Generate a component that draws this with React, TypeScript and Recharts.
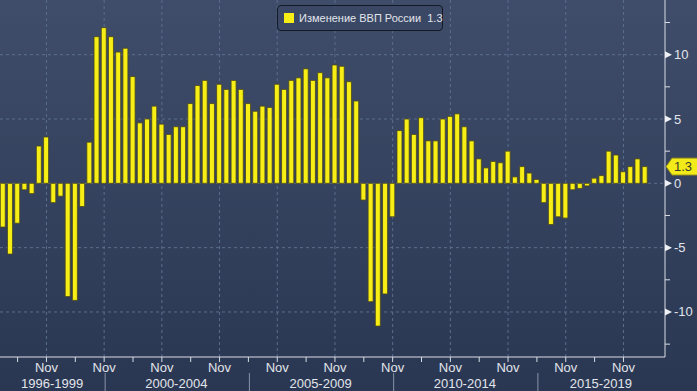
import React from 'react';
import { BarChart, Bar, XAxis, YAxis, CartesianGrid } from 'recharts';

// ---------- data ----------
const seriesName = 'Изменение ВВП России';
const firstYear = 1996;
const firstQuarter = 2;

// Russian GDP change, % y/y, quarterly from 1996 Q2 to 2018 Q3
const gdpChange: number[] = [
  -3.4, -5.5, -3.1, -0.5, -0.8, 2.9, 3.6, -1.5, -1.0, -8.8, -9.1, -1.8, 3.2, 11.4, 12.1,
  11.4, 10.2, 10.5, 8.3, 4.7, 5.0, 6.0, 4.6, 3.8, 4.4, 4.4, 6.2, 7.6, 8.0, 6.2,
  7.7, 7.3, 8.0, 7.3, 6.2, 5.6, 6.0, 5.9, 7.7, 7.3, 8.0, 8.2, 8.9, 8.0, 8.6,
  8.2, 9.2, 9.1, 7.9, 6.4, -1.3, -9.2, -11.1, -8.6, -2.6, 4.1, 5.0, 3.8, 5.1, 3.3,
  3.3, 5.0, 5.2, 5.4, 4.4, 3.3, 1.9, 1.2, 1.7, 1.6, 2.5, 0.5, 1.3, 0.8, 0.3,
  -1.5, -3.2, -2.6, -2.7, -0.5, -0.4, -0.2, 0.4, 0.6, 2.5, 2.2, 0.9, 1.3, 1.9, 1.3,
];

const quarterLabels: string[] = gdpChange.map((_, i) => {
  const q = firstQuarter - 1 + i;
  return `${firstYear + Math.floor(q / 4)} Q${(q % 4) + 1}`;
});

const tickYears: number[] = [
  1997, 1998, 1999, 2000, 2001, 2002, 2003, 2004, 2005, 2006, 2007,
  2008, 2009, 2010, 2011, 2012, 2013, 2014, 2015, 2016, 2017, 2018,
];
const labeledTickYears: number[] = [1998, 2000, 2002, 2004, 2006, 2008, 2010, 2012, 2014, 2016, 2018];
const labeledTickText = 'Nov';

const yearGroups = [
  { label: '1996-1999', from: 1996, to: 2000 },
  { label: '2000-2004', from: 2000, to: 2005 },
  { label: '2005-2009', from: 2005, to: 2010 },
  { label: '2010-2014', from: 2010, to: 2015 },
  { label: '2015-2019', from: 2015, to: 2020 },
];

const yMinorTicks: number[] = [-12.5, -7.5, -2.5, 2.5, 7.5, 12.5];
const yLabelTicks: number[] = [-10, -5, 0, 5, 10];

// ---------- derived ----------
const X_DOMAIN: [number, number] = [1996.36, 2019.41];
const Y_DOMAIN: [number, number] = [-13.5, 14.25];
const yearPos = (y: number) => y - 0.03;
const quarterToT = (label: string) => {
  const [y, q] = label.split(' Q');
  return Number(y) + Number(q) * 0.25 - 0.04;
};

const data = quarterLabels.map((q, i) => ({ quarter: q, t: quarterToT(q), v: gdpChange[i] }));
const lastValue = gdpChange[gdpChange.length - 1];

const groupCenters = yearGroups.map((g) => {
  const a = Math.max(yearPos(g.from), X_DOMAIN[0]);
  const b = Math.min(yearPos(g.to), X_DOMAIN[1]);
  return { label: g.label, t: (a + b) / 2 };
});
const boundaryYears = yearGroups.slice(1).map((g) => g.from);

const yearTickValues = tickYears.map(yearPos);
const novTickValues = labeledTickYears.map(yearPos);
const xTicks = [...yearTickValues, ...groupCenters.map((g) => g.t)];
const yTicks = [...yMinorTicks, ...yLabelTicks, lastValue];

const FONT = "'Liberation Sans', Arial, sans-serif";
const TEXT = '#e2e5eb';
const AXIS = '#d9dde4';
const YELLOW = '#f6ee14';

const XTick = (props: any) => {
  const { x, y, payload } = props;
  const v = payload.value as number;
  const grp = groupCenters.find((g) => Math.abs(g.t - v) < 1e-6);
  if (grp) {
    return (
      <text x={x} y={y + 31} textAnchor="middle" fill={TEXT} fontSize={13} fontFamily={FONT}>
        {grp.label}
      </text>
    );
  }
  const yearIdx = yearTickValues.findIndex((t) => Math.abs(t - v) < 1e-6);
  const year = tickYears[yearIdx];
  const labeled = labeledTickYears.includes(year);
  const boundary = boundaryYears.includes(year);
  return (
    <g>
      <line x1={x} x2={x} y1={y} y2={y + 5} stroke={AXIS} strokeWidth={1} />
      {labeled && (
        <text x={x} y={y + 15} textAnchor="middle" fill={TEXT} fontSize={13} fontFamily={FONT}>
          {labeledTickText}
        </text>
      )}
      {boundary && <line x1={x + 1} x2={x + 1} y1={y + 16} y2={y + 36} stroke="#8a93a6" strokeWidth={1} />}
    </g>
  );
};

const YTick = (props: any) => {
  const { x, y, payload } = props;
  const v = payload.value as number;
  if (v === lastValue && !yLabelTicks.includes(v) && !yMinorTicks.includes(v)) {
    const h = 8.5;
    return (
      <g>
        <polygon
          points={`${x + 1},${y} ${x + 7},${y - h} ${x + 40},${y - h} ${x + 40},${y + h} ${x + 7},${y + h}`}
          fill="#f3ea1a"
          stroke="#8a8420"
          strokeWidth={1}
        />
        <text x={x + 9} y={y + 4.5} fill="#3a3a28" fontSize={13} fontFamily={FONT}>
          {lastValue.toFixed(1)}
        </text>
      </g>
    );
  }
  if (yLabelTicks.includes(v)) {
    return (
      <g>
        <polygon points={`${x},${y - 3.5} ${x + 7},${y} ${x},${y + 3.5}`} fill="#eef0f4" />
        <text x={x + 9} y={y + 4.5} fill={TEXT} fontSize={13} fontFamily={FONT}>
          {v < 0 ? `-${Math.abs(v)}` : `${v}`}
        </text>
      </g>
    );
  }
  return <line x1={x} x2={x + 5} y1={y} y2={y} stroke={AXIS} strokeWidth={1} />;
};

export default function App() {
  return (
    <div
      style={{
        position: 'absolute',
        left: 0,
        top: 0,
        width: 697,
        height: 391,
        background: 'linear-gradient(#3f4d6a, #2a3753)',
        overflow: 'hidden',
        fontFamily: FONT,
      }}
    >
      <BarChart width={697} height={391} data={data} margin={{ top: 0, right: 0, bottom: 0, left: 0 }}>
        <CartesianGrid
          stroke="#5a6e8e"
          strokeDasharray="3 3"
          horizontalValues={yLabelTicks}
          verticalValues={novTickValues}
        />
        <XAxis
          dataKey="t"
          type="number"
          domain={X_DOMAIN}
          allowDataOverflow
          ticks={xTicks}
          interval={0}
          height={34}
          tickLine={false}
          tickSize={0}
          tickMargin={0}
          axisLine={{ stroke: AXIS, strokeWidth: 1 }}
          tick={<XTick />}
        />
        <YAxis
          orientation="right"
          type="number"
          domain={Y_DOMAIN}
          allowDataOverflow
          ticks={yTicks}
          interval={0}
          width={32}
          tickLine={false}
          tickSize={0}
          tickMargin={0}
          axisLine={{ stroke: AXIS, strokeWidth: 1 }}
          tick={<YTick />}
        />
        <Bar
          dataKey="v"
          name={seriesName}
          barSize={5}
          fill={YELLOW}
          stroke="#4a481c"
          strokeWidth={0.8}
          isAnimationActive={false}
        />
      </BarChart>
      <div
        style={{
          position: 'absolute',
          left: 277,
          top: 5,
          width: 166,
          height: 26,
          border: '1px solid #131926',
          borderRadius: 4,
          background: 'rgba(58,72,101,0.9)',
          display: 'flex',
          alignItems: 'center',
          boxSizing: 'border-box',
        }}
      >
        <div
          style={{
            width: 10,
            height: 10,
            minWidth: 10,
            flexShrink: 0,
            background: YELLOW,
            marginLeft: 6,
            marginRight: 5,
          }}
        />
        <span style={{ color: TEXT, fontSize: 11, fontFamily: FONT, whiteSpace: 'pre' }}>
          {`${seriesName}  ${lastValue.toFixed(1)}`}
        </span>
      </div>
    </div>
  );
}
